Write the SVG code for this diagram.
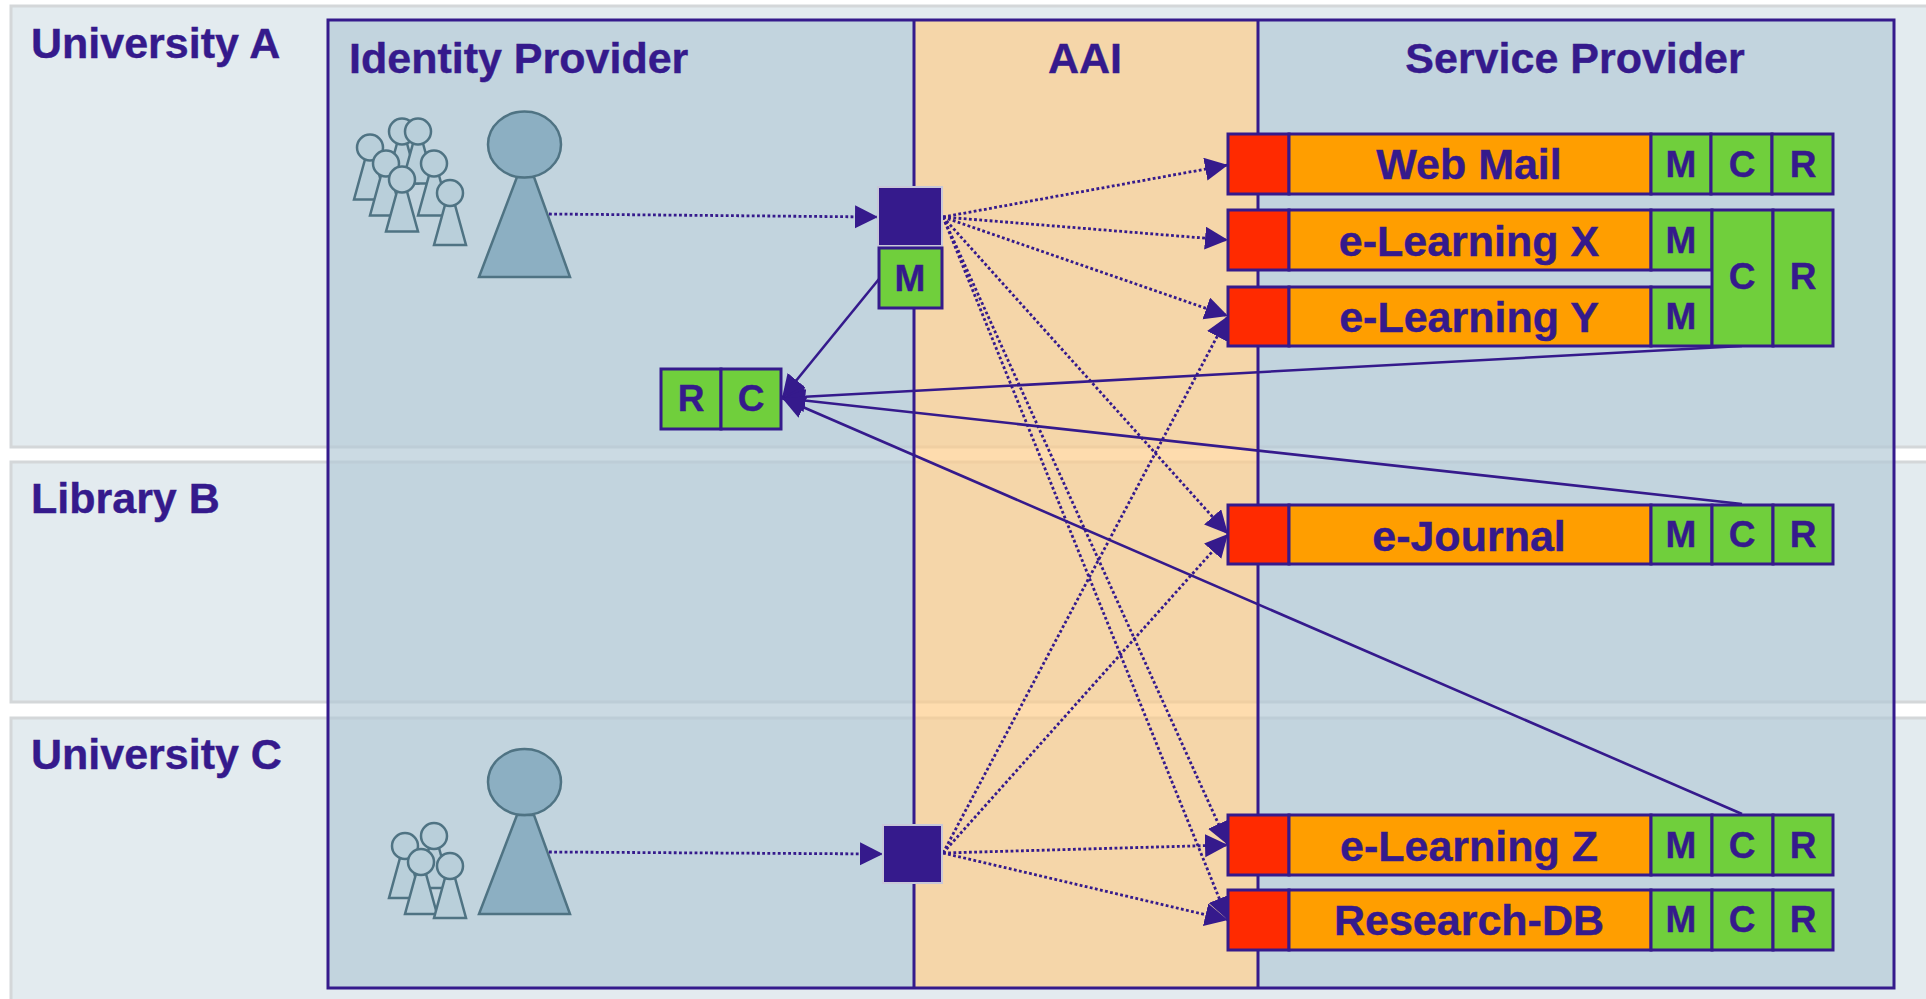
<svg xmlns="http://www.w3.org/2000/svg" width="1926" height="999" viewBox="0 0 1926 999">
<style>
text{font-family:"Liberation Sans",Arial,sans-serif;font-weight:bold;fill:#351a8c;stroke:#351a8c;stroke-width:.4}
.band{fill:#e3ebef;stroke:#d4d7d9;stroke-width:3}
.pan{fill:#b3c8d6;fill-opacity:.68}
.aai{fill:#fecc87;fill-opacity:.68}
.ln{fill:none;stroke:#351a8c;stroke-width:3}
.t40{font-size:43px}
.t42{font-size:43px;text-anchor:middle}
.t36{font-size:37px;text-anchor:middle}
.red{fill:#ff2a00;stroke:#351a8c;stroke-width:3}
.org{fill:#ff9e00;stroke:#351a8c;stroke-width:3}
.grn{fill:#70cf3c;stroke:#351a8c;stroke-width:3}
.sq{fill:#351a8c;stroke:#c8c8d8;stroke-width:2}
.big{fill:#8cafc2;stroke:#4f7383;stroke-width:2.5}
.small{fill:#b9cfda;stroke:#4f7383;stroke-width:2.5}
.dot{fill:none;stroke:#351a8c;stroke-width:2.8;stroke-dasharray:2.8 2.4}
.sol{fill:none;stroke:#351a8c;stroke-width:2.6}
</style>
<defs>
<marker id="ah" markerUnits="userSpaceOnUse" markerWidth="25" markerHeight="25" refX="23" refY="11.500" orient="auto"><path d="M0 0L23 11.500L0 23Z" fill="#351a8c"/></marker>
<g id="person"><path d="M-5 12L5 12L16 52L-16 52Z"/><ellipse cx="0" cy="0" rx="13" ry="13"/></g>
</defs>
<g id="bands">
<rect class="band" x="11" y="6" width="1930" height="441"/>
<rect class="band" x="11" y="462" width="1930" height="240"/>
<rect class="band" x="11" y="718" width="1930" height="300"/>
</g>
<g id="panels">
<rect class="pan" x="328" y="20" width="586" height="968"/>
<rect class="aai" x="914" y="20" width="344" height="968"/>
<rect class="pan" x="1258" y="20" width="636" height="968"/>
<rect class="ln" x="328" y="20" width="1566" height="968"/>
<path class="ln" d="M914 20V988M1258 20V988"/>
</g>
<g id="labels">
<text class="t40" x="31" y="58">University A</text>
<text class="t40" x="31" y="513">Library B</text>
<text class="t40" x="31" y="769">University C</text>
<text class="t40" x="349" y="73">Identity Provider</text>
<text class="t42" x="1085" y="73">AAI</text>
<text class="t42" x="1575" y="73">Service Provider</text>
</g>
<g id="users-a">
<use href="#person" class="small" x="370" y="147.500"/>
<use href="#person" class="small" x="402" y="131.500"/>
<use href="#person" class="small" x="418" y="131.500"/>
<use href="#person" class="small" x="386" y="163.500"/>
<use href="#person" class="small" x="434" y="163.500"/>
<use href="#person" class="small" x="402" y="179.500"/>
<use href="#person" class="small" x="450" y="193"/>
<path class="big" d="M517 177L534 177L570 277L479 277Z"/><ellipse class="big" cx="524.500" cy="144.500" rx="36.500" ry="33"/>
</g>
<g id="users-c">
<use href="#person" class="small" x="405" y="846"/>
<use href="#person" class="small" x="434" y="836"/>
<use href="#person" class="small" x="421" y="862"/>
<use href="#person" class="small" x="450" y="866"/>
<path class="big" d="M517 815L534 815L570 914L479 914Z"/><ellipse class="big" cx="524.500" cy="782" rx="36.500" ry="33"/>
</g>
<g id="connectors">
<path class="dot" marker-end="url(#ah)" d="M549 214L878 217"/>
<path class="dot" marker-end="url(#ah)" d="M549 852L883 854"/>
<path class="dot" marker-end="url(#ah)" d="M943 217L1228 165"/>
<path class="dot" marker-end="url(#ah)" d="M943 217L1228 240"/>
<path class="dot" marker-end="url(#ah)" d="M943 217L1228 316"/>
<path class="dot" marker-end="url(#ah)" d="M943 217L1228 534"/>
<path class="dot" marker-end="url(#ah)" d="M943 217L1228 845"/>
<path class="dot" marker-end="url(#ah)" d="M943 217L1228 920"/>
<path class="dot" marker-end="url(#ah)" d="M943 853L1228 316"/>
<path class="dot" marker-end="url(#ah)" d="M943 853L1228 534"/>
<path class="dot" marker-end="url(#ah)" d="M943 853L1228 845"/>
<path class="dot" marker-end="url(#ah)" d="M943 853L1228 920"/>
<path class="sol" marker-end="url(#ah)" d="M879 279L782 398"/>
<path class="sol" marker-end="url(#ah)" d="M1742 346L782 398"/>
<path class="sol" marker-end="url(#ah)" d="M1742 504L782 398"/>
<path class="sol" marker-end="url(#ah)" d="M1742 814L782 398"/>
</g>
<g id="idp-a"><rect class="sq" x="878" y="187" width="64" height="59"/></g>
<g id="idp-a-m"><rect class="grn" x="879" y="248" width="63" height="60"/><text class="t36" x="910" y="291">M</text></g>
<g id="idp-c"><rect class="sq" x="883" y="825" width="59" height="58"/></g>
<g id="rc"><rect class="grn" x="661" y="369" width="60" height="60"/><rect class="grn" x="721" y="369" width="60" height="60"/><text class="t36" x="691" y="411">R</text><text class="t36" x="751" y="411">C</text></g>
<g id="web-mail">
<rect class="red" x="1228" y="134" width="61" height="60"/><rect class="org" x="1289" y="134" width="362" height="60"/><rect class="grn" x="1651" y="134" width="60" height="60"/><rect class="grn" x="1711" y="134" width="61" height="60"/><rect class="grn" x="1772" y="134" width="61" height="60"/>
<text class="t42" x="1469" y="179">Web Mail</text><text class="t36" x="1681" y="177">M</text><text class="t36" x="1742" y="177">C</text><text class="t36" x="1803" y="177">R</text>
</g>
<g id="e-learning-x">
<rect class="red" x="1228" y="210" width="61" height="60"/><rect class="org" x="1289" y="210" width="362" height="60"/><rect class="grn" x="1651" y="210" width="61" height="60"/>
<text class="t42" x="1469" y="256">e-Learning X</text><text class="t36" x="1681" y="253">M</text>
</g>
<g id="e-learning-y">
<rect class="red" x="1228" y="287" width="61" height="59"/><rect class="org" x="1289" y="287" width="362" height="59"/><rect class="grn" x="1651" y="287" width="61" height="59"/>
<text class="t42" x="1469" y="332">e-Learning Y</text><text class="t36" x="1681" y="329">M</text>
</g>
<g id="shared-cr"><rect class="grn" x="1712" y="210" width="61" height="136"/><rect class="grn" x="1773" y="210" width="60" height="136"/><text class="t36" x="1742" y="289">C</text><text class="t36" x="1803" y="289">R</text></g>
<g id="e-journal">
<rect class="red" x="1228" y="505" width="61" height="59"/><rect class="org" x="1289" y="505" width="362" height="59"/><rect class="grn" x="1651" y="505" width="61" height="59"/><rect class="grn" x="1712" y="505" width="61" height="59"/><rect class="grn" x="1773" y="505" width="60" height="59"/>
<text class="t42" x="1469" y="551">e-Journal</text><text class="t36" x="1681" y="547">M</text><text class="t36" x="1742" y="547">C</text><text class="t36" x="1803" y="547">R</text>
</g>
<g id="e-learning-z">
<rect class="red" x="1228" y="815" width="61" height="60"/><rect class="org" x="1289" y="815" width="362" height="60"/><rect class="grn" x="1651" y="815" width="61" height="60"/><rect class="grn" x="1712" y="815" width="61" height="60"/><rect class="grn" x="1773" y="815" width="60" height="60"/>
<text class="t42" x="1469" y="861">e-Learning Z</text><text class="t36" x="1681" y="858">M</text><text class="t36" x="1742" y="858">C</text><text class="t36" x="1803" y="858">R</text>
</g>
<g id="research-db">
<rect class="red" x="1228" y="890" width="61" height="60"/><rect class="org" x="1289" y="890" width="362" height="60"/><rect class="grn" x="1651" y="890" width="61" height="60"/><rect class="grn" x="1712" y="890" width="61" height="60"/><rect class="grn" x="1773" y="890" width="60" height="60"/>
<text class="t42" x="1469" y="935">Research-DB</text><text class="t36" x="1681" y="932">M</text><text class="t36" x="1742" y="932">C</text><text class="t36" x="1803" y="932">R</text>
</g>
</svg>
